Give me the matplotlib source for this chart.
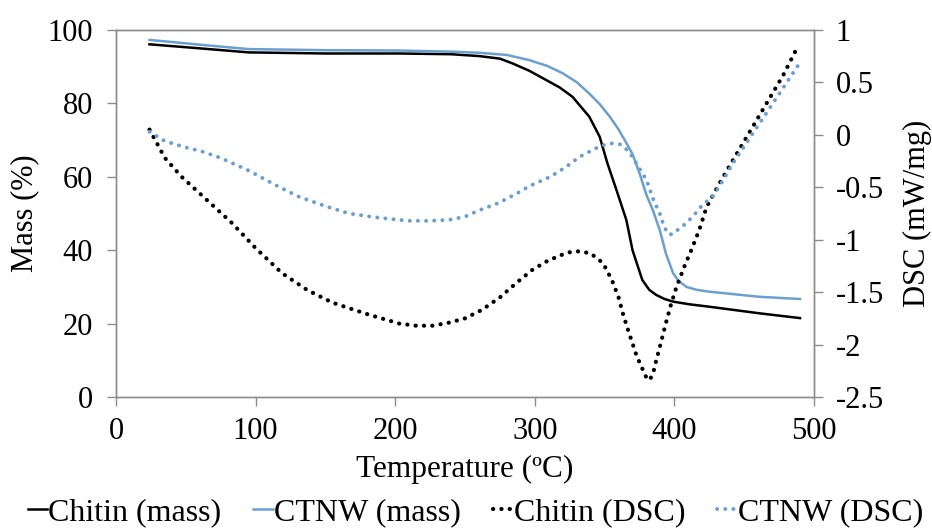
import matplotlib
matplotlib.use("Agg")
import matplotlib.pyplot as plt

plt.rcParams['font.family'] = ['Liberation Serif', 'DejaVu Serif']

# Mass curves (Temperature °C, Mass %)
chitin_mass_T = [24, 60, 95, 150, 203, 240, 260, 275, 284, 296, 308, 318, 327, 339, 346.5, 352, 358.5, 365.6, 370, 377, 382, 387, 393, 399, 410, 425, 461, 490]
chitin_mass_y = [96.1, 95.0, 93.9, 93.6, 93.6, 93.4, 92.9, 92.2, 90.9, 88.9, 86.4, 84.3, 81.8, 76.4, 70.9, 63.7, 56.4, 48.2, 40.0, 31.9, 29.2, 27.8, 26.7, 26.0, 25.3, 24.6, 22.8, 21.5]

ctnw_mass_T = [24, 60, 95, 150, 203, 240, 260, 280, 296, 309, 320, 330, 339, 346.5, 353.7, 360, 365.6, 370, 375, 380, 384.5, 389.5, 394, 399, 403, 408.7, 416, 425, 461, 490]
ctnw_mass_y = [97.3, 96.0, 94.8, 94.5, 94.4, 94.1, 93.8, 93.2, 91.8, 90.2, 88.2, 85.8, 82.7, 79.8, 76.4, 72.9, 69.2, 66.2, 61.0, 55.0, 51.0, 45.5, 39.0, 33.8, 31.6, 30.0, 29.2, 28.7, 27.3, 26.7]

# DSC curves (Temperature °C, DSC mW/mg)
chitin_dsc_T = [24, 35, 47, 65, 83, 100, 119, 137, 155, 180, 203, 215, 227, 239, 250, 262, 275, 287, 298, 308, 318, 325, 332, 340, 348.6, 352, 356, 360, 363, 366.5, 370, 373, 376.4, 379, 381, 383, 385, 387, 390, 394, 397.5, 401.5, 407, 413, 418, 423, 432, 442, 454, 466, 478, 489]
chitin_dsc_y = [0.05, -0.22, -0.40, -0.62, -0.84, -1.08, -1.32, -1.48, -1.60, -1.71, -1.80, -1.82, -1.82, -1.79, -1.75, -1.67, -1.55, -1.41, -1.29, -1.21, -1.15, -1.12, -1.11, -1.13, -1.22, -1.30, -1.41, -1.55, -1.70, -1.85, -1.99, -2.11, -2.21, -2.29, -2.34, -2.32, -2.26, -2.15, -2.00, -1.79, -1.62, -1.45, -1.26, -1.07, -0.90, -0.69, -0.47, -0.24, 0.03, 0.30, 0.57, 0.86]

ctnw_dsc_T = [24, 35, 50, 62, 75, 85, 95, 113, 131, 150, 167, 188, 210, 225, 239, 250, 260, 274, 287, 296, 311, 322, 332, 345, 351, 356, 361, 365, 368, 374, 380, 385, 389.5, 392, 395, 398, 403, 408.7, 415, 420, 428, 435, 442, 454, 466, 478, 490]
ctnw_dsc_y = [0.03, -0.06, -0.12, -0.16, -0.22, -0.28, -0.34, -0.47, -0.59, -0.68, -0.75, -0.79, -0.82, -0.82, -0.81, -0.78, -0.72, -0.65, -0.56, -0.49, -0.40, -0.31, -0.21, -0.12, -0.09, -0.08, -0.09, -0.13, -0.17, -0.30, -0.43, -0.62, -0.75, -0.85, -0.94, -0.95, -0.90, -0.84, -0.75, -0.67, -0.58, -0.43, -0.27, -0.03, 0.21, 0.45, 0.69]

x_ticks = [0, 100, 200, 300, 400, 500]
mass_ticks = [0, 20, 40, 60, 80, 100]
dsc_ticks = [-2.5, -2, -1.5, -1, -0.5, 0, 0.5, 1]
dsc_labels = ['-2.5', '-2', '-1.5', '-1', '-0.5', '0', '0.5', '1']

blue = '#6a9fd0'
spine_c = '#8c8c8c'

fig = plt.figure(figsize=(9.32, 5.32), dpi=100)
ax = fig.add_axes([116 / 932, 1 - 397 / 532, (814 - 116) / 932, (397 - 30) / 532])
ax2 = ax.twinx()

l1, = ax.plot(chitin_mass_T, chitin_mass_y, color='black', lw=1.8, label='Chitin (mass)')
l2, = ax.plot(ctnw_mass_T, ctnw_mass_y, color=blue, lw=1.8, label='CTNW (mass)')
l3, = ax2.plot(chitin_dsc_T, chitin_dsc_y, color='black', lw=3.0, ls=(0, (0.05, 1.95)),
               dash_capstyle='round', label='Chitin (DSC)')
l4, = ax2.plot(ctnw_dsc_T, ctnw_dsc_y, color=blue, lw=2.8, ls=(0, (0.05, 2.05)),
               dash_capstyle='round', label='CTNW (DSC)')

ax.set_xlim(0, 500)
ax.set_ylim(0, 100)
ax2.set_ylim(-2.5, 1)
ax.set_xticks(x_ticks)
ax.set_yticks(mass_ticks)
ax2.set_yticks(dsc_ticks)
ax2.set_yticklabels(dsc_labels)

for a in (ax, ax2):
    for s in a.spines.values():
        s.set_color(spine_c)
        s.set_linewidth(1.0)
    a.tick_params(direction='out', color=spine_c, length=6.5, width=1, labelsize=22)
ax.tick_params(axis='y', pad=10)
ax.tick_params(axis='x', pad=8)
ax2.tick_params(axis='y', pad=9)

ax.set_xlabel('Temperature (ºC)', fontsize=22.5, labelpad=6)
ax.set_ylabel('Mass (%)', fontsize=22, labelpad=6)
ax2.set_ylabel('DSC (mW/mg)', fontsize=22, labelpad=14)

fig.legend(handles=[l1, l2, l3, l4], loc='lower center', bbox_to_anchor=(0.51, -0.015), ncol=4,
           frameon=False, fontsize=23, handlelength=0.6, handletextpad=0.05, columnspacing=1.0,
           borderaxespad=0.0)

fig.savefig('out.png', dpi=100)
